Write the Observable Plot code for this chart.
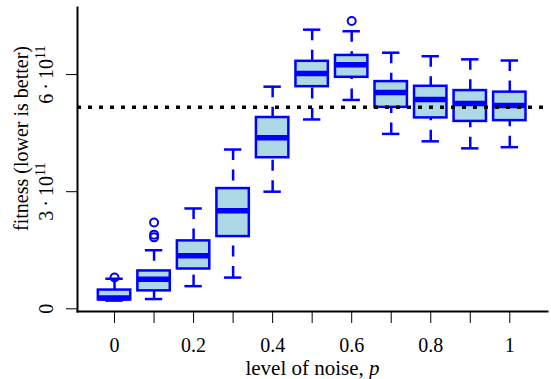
<!DOCTYPE html>
<html><head><meta charset="utf-8">
<script src="https://cdn.jsdelivr.net/npm/d3@7"></script>
<script src="https://cdn.jsdelivr.net/npm/@observablehq/plot@0.6"></script>
<style>body{margin:0;background:#fff}</style>
</head><body><div id="chart"></div>
<script>
// values in units of 1e11
const noise = [0, 0.1, 0.2, 0.3, 0.4, 0.5, 0.6, 0.7, 0.8, 0.9, 1.0];
const lowerWhisker = [0.21, 0.25, 0.58, 0.80, 3.00, 4.85, 5.35, 4.48, 4.29, 4.11, 4.14];
const lowerQuartile = [0.23, 0.46, 1.02, 1.85, 3.87, 5.69, 5.93, 5.16, 4.89, 4.80, 4.82];
const median = [0.28, 0.76, 1.36, 2.51, 4.38, 6.03, 6.25, 5.54, 5.36, 5.26, 5.21];
const upperQuartile = [0.48, 0.97, 1.74, 3.08, 4.90, 6.34, 6.49, 5.82, 5.70, 5.59, 5.55];
const upperWhisker = [0.77, 1.50, 2.57, 4.08, 5.69, 7.15, 7.11, 6.56, 6.47, 6.39, 6.36];
const outlierNoise = [0, 0.1, 0.1, 0.1, 0.6];
const outlierValue = [0.80, 1.83, 1.90, 2.21, 7.37];
const referenceLevel = [5.16];
const xTickValues = [0, 0.1, 0.2, 0.3, 0.4, 0.5, 0.6, 0.7, 0.8, 0.9, 1];
const xTickLabels = ["0", "", "0.2", "", "0.4", "", "0.6", "", "0.8", "", "1"];
const yTickValues = [0, 3, 6];
const yTickLabels = ["0", "3\u2009·\u200910^11", "6\u2009·\u200910^11"];
const xLabel = "level of noise, p";
const yLabel = "fitness (lower is better)";

const blue = "#0000FF", light = "#ADD8E6";
const boxHalf = 0.041, capHalf = 0.022;
const boxes = noise.map((p, i) => ({p, lo: lowerWhisker[i], q1: lowerQuartile[i], med: median[i], q3: upperQuartile[i], hi: upperWhisker[i]}));
const outliers = outlierNoise.map((p, i) => ({p, v: outlierValue[i]}));
const xLab = new Map(xTickValues.map((v, i) => [v, xTickLabels[i]]));
const yLab = new Map(yTickValues.map((v, i) => [v, yTickLabels[i]]));

const chart = Plot.plot({
  width: 551, height: 379,
  marginLeft: 77, marginRight: 4, marginTop: 7, marginBottom: 68,
  x: {domain: [-0.0937, 1.0954]},
  y: {domain: [-0.069, 7.718]},
  style: {fontFamily: "'Liberation Serif', serif", fontSize: "20px", color: "black", background: "white"},
  marks: [
    Plot.ruleX(boxes, {x: "p", y1: "lo", y2: "q1", stroke: blue, strokeWidth: 2.5, strokeDasharray: "11,9.5"}),
    Plot.ruleX(boxes, {x: "p", y1: "hi", y2: "q3", stroke: blue, strokeWidth: 2.5, strokeDasharray: "11,9.5"}),
    Plot.ruleY(boxes, {y: "lo", x1: d => d.p - capHalf, x2: d => d.p + capHalf, stroke: blue, strokeWidth: 2.5}),
    Plot.ruleY(boxes, {y: "hi", x1: d => d.p - capHalf, x2: d => d.p + capHalf, stroke: blue, strokeWidth: 2.5}),
    Plot.rect(boxes, {x1: d => d.p - boxHalf, x2: d => d.p + boxHalf, y1: "q1", y2: "q3", fill: light, stroke: blue, strokeWidth: 2.5}),
    Plot.ruleY(boxes, {y: "med", x1: d => d.p - boxHalf, x2: d => d.p + boxHalf, stroke: blue, strokeWidth: 5.5}),
    Plot.dot(outliers, {x: "p", y: "v", r: 4, stroke: blue, strokeWidth: 2, fill: "none"}),
    Plot.ruleY(referenceLevel, {stroke: "black", strokeWidth: 3.5, strokeDasharray: "4,7"}),
    Plot.frame({anchor: "left", strokeWidth: 2}),
    Plot.frame({anchor: "bottom", strokeWidth: 2}),
    Plot.axisX({ticks: xTickValues, tickSize: 12, tickPadding: 14, tickFormat: d => xLab.get(d) ?? "", label: null, fontSize: 20}),
    Plot.axisY({ticks: yTickValues, tickSize: 11, tickFormat: () => "", label: null}),
    Plot.text(yTickValues, {y: d => d, text: d => yLab.get(d), frameAnchor: "left", textAnchor: "middle", lineAnchor: "middle", rotate: -90, dx: -31, fontSize: 20}),
    Plot.text([yLabel], {text: d => d, frameAnchor: "left", textAnchor: "middle", lineAnchor: "middle", rotate: -90, dx: -56, dy: -21, fontSize: 20}),
    Plot.text([xLabel], {text: d => d, frameAnchor: "bottom", textAnchor: "middle", lineAnchor: "middle", dy: 57, fontSize: 21})
  ]
});
document.getElementById("chart").appendChild(chart);
const svg = d3.select(chart);
// italic p in x label
svg.selectAll("text").filter(function() { return this.textContent === xLabel; }).each(function() {
  const t = d3.select(this);
  t.text("level of noise, ");
  t.append("tspan").attr("font-style", "italic").text("p");
});
// superscript exponents in y tick labels
svg.selectAll("text").filter(function() { return this.textContent.includes("^"); }).each(function() {
  const [base, exp] = this.textContent.split("^");
  const t = d3.select(this);
  t.text(base);
  t.append("tspan").attr("font-size", "14px").attr("dy", "-8").text(exp);
});
</script>
</body></html>
